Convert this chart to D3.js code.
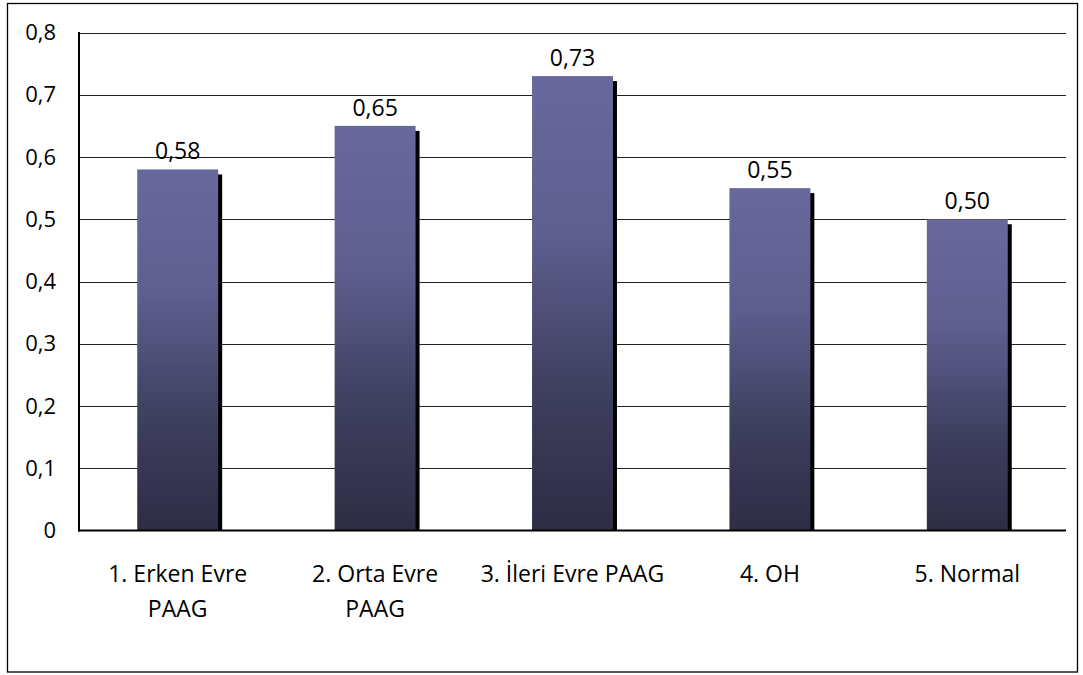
<!DOCTYPE html>
<html>
<head>
<meta charset="utf-8">
<script src="https://cdn.jsdelivr.net/npm/d3@7"></script>
<style>
  html, body { margin: 0; padding: 0; background: #fff; }
  svg { display: block; }
  text { font-family: "Open Sans", "Noto Sans", sans-serif; fill: #000; }
</style>
</head>
<body>
<svg id="chart" width="1083" height="675"></svg>
<script>
// Category labels (each entry is one line of the wrapped label)
const categories = [
  ["1. Erken Evre", "PAAG"],
  ["2. Orta Evre", "PAAG"],
  ["3. İleri Evre PAAG"],
  ["4. OH"],
  ["5. Normal"]
];
const values = [0.58, 0.65, 0.73, 0.55, 0.50];
const valueLabels = ["0,58", "0,65", "0,73", "0,55", "0,50"];
const yTicks = [0, 0.1, 0.2, 0.3, 0.4, 0.5, 0.6, 0.7, 0.8];
const yTickLabels = ["0", "0,1", "0,2", "0,3", "0,4", "0,5", "0,6", "0,7", "0,8"];

const svg = d3.select("#chart");
const plot = { left: 79, right: 1066, top: 32.5, bottom: 530.5 };
const FONT = "'Open Sans', 'Noto Sans', sans-serif";

// Outer frame
svg.append("rect")
  .attr("x", 7.5).attr("y", 3.5)
  .attr("width", 1070).attr("height", 668.5)
  .attr("fill", "#fff").attr("stroke", "#000").attr("stroke-width", 1.3);

const x = d3.scaleBand()
  .domain(d3.range(categories.length))
  .range([plot.left, plot.right])
  .paddingInner(0.59).paddingOuter(0.295);

const y = d3.scaleLinear().domain([0, 0.8]).range([plot.bottom, plot.top]);

// Bar fill gradient
const defs = svg.append("defs");
const grad = defs.append("linearGradient")
  .attr("id", "barFill").attr("x1", 0).attr("y1", 0).attr("x2", 0).attr("y2", 1);
grad.append("stop").attr("offset", "0%").attr("stop-color", "#68689c");
grad.append("stop").attr("offset", "35%").attr("stop-color", "#5e5e8f");
grad.append("stop").attr("offset", "70%").attr("stop-color", "#3e3e5e");
grad.append("stop").attr("offset", "100%").attr("stop-color", "#2d2d45");

// Gridlines
svg.append("g")
  .selectAll("line")
  .data(yTicks.filter(t => t > 0))
  .join("line")
  .attr("x1", plot.left).attr("x2", plot.right)
  .attr("y1", d => Math.round(y(d)) + 0.5).attr("y2", d => Math.round(y(d)) + 0.5)
  .attr("stroke", "#222").attr("stroke-width", 1.2);

// Y axis labels
const yAxis = d3.axisLeft(y)
  .tickValues(yTicks)
  .tickFormat((d, i) => yTickLabels[i])
  .tickSize(0)
  .tickPadding(23);
const yG = svg.append("g").attr("transform", `translate(${plot.left},0)`).call(yAxis);
yG.select(".domain").remove();
yG.selectAll("text").attr("font-size", 22).style("font-family", FONT).attr("fill", "#000");

// Bars with drop shadow
const bars = svg.append("g").selectAll("g").data(values).join("g");
bars.append("rect")
  .attr("x", (d, i) => x(i) + 4)
  .attr("y", d => y(d) + 5)
  .attr("width", x.bandwidth())
  .attr("height", d => plot.bottom - y(d) - 5)
  .attr("fill", "#000");
bars.append("rect")
  .attr("x", (d, i) => x(i))
  .attr("y", d => y(d))
  .attr("width", x.bandwidth())
  .attr("height", d => plot.bottom - y(d))
  .attr("fill", "url(#barFill)");

// Value labels
svg.append("g").selectAll("text").data(values).join("text")
  .attr("x", (d, i) => x(i) + x.bandwidth() / 2)
  .attr("y", d => y(d) - 10)
  .attr("text-anchor", "middle")
  .attr("font-size", 23)
  .text((d, i) => valueLabels[i]);

// Axes lines
svg.append("line")
  .attr("x1", plot.left).attr("x2", plot.left)
  .attr("y1", plot.top - 0.5).attr("y2", plot.bottom + 1)
  .attr("stroke", "#000").attr("stroke-width", 2);
svg.append("line")
  .attr("x1", plot.left - 1).attr("x2", plot.right)
  .attr("y1", plot.bottom).attr("y2", plot.bottom)
  .attr("stroke", "#000").attr("stroke-width", 2);

// Category labels
const step = x.step();
const cat = svg.append("g").selectAll("text").data(categories).join("text")
  .attr("text-anchor", "middle")
  .attr("font-size", 23)
  .attr("x", (d, i) => plot.left + step * (i + 0.5))
  .attr("y", 582);
cat.selectAll("tspan").data(d => d).join("tspan")
  .attr("x", function () { return this.parentNode.getAttribute("x"); })
  .attr("dy", (d, j) => j === 0 ? 0 : 35)
  .text(d => d);
</script>
</body>
</html>
